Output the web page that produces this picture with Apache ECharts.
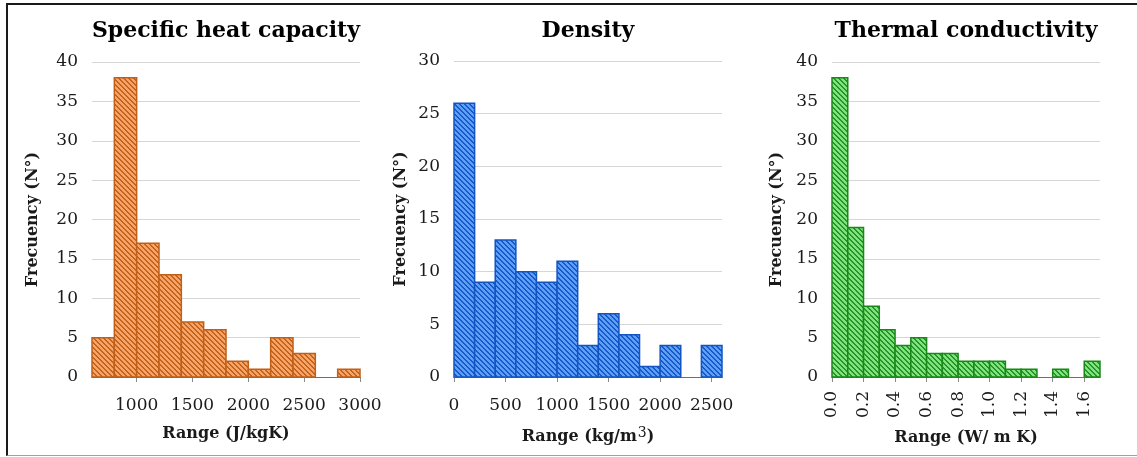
<!DOCTYPE html>
<html><head><meta charset="utf-8">
<script src="https://cdn.jsdelivr.net/npm/echarts@6/dist/echarts.min.js"></script>
<style>
html,body{margin:0;padding:0;background:#fff;overflow:hidden;width:1137px;height:457px;}
#frame{position:absolute;left:6px;top:3px;width:1131px;height:450px;border-left:2px solid #1a1a1a;border-top:2px solid #1a1a1a;border-bottom:1px solid #a0a0a0;}
#c{position:absolute;left:0;top:0;width:1137px;height:457px;}
</style></head><body><div id="frame"></div><div id="c"></div>
<script>
// ---- data ----
const heatTitle = 'Specific heat capacity';
const heatBins = [600, 800, 1000, 1200, 1400, 1600, 1800, 2000, 2200, 2400, 2600, 2800];
const heatCounts = [5, 38, 17, 13, 7, 6, 2, 1, 5, 3, 0, 1];
const heatBinWidth = 200;
const heatTicks = [1000, 1500, 2000, 2500, 3000];

const densTitle = 'Density';
const densBins = [0, 200, 400, 600, 800, 1000, 1200, 1400, 1600, 1800, 2000, 2200, 2400];
const densCounts = [26, 9, 13, 10, 9, 11, 3, 6, 4, 1, 3, 0, 3];
const densBinWidth = 200;
const densTicks = [0, 500, 1000, 1500, 2000, 2500];

const condTitle = 'Thermal conductivity';
const condBins = [0, 0.1, 0.2, 0.3, 0.4, 0.5, 0.6, 0.7, 0.8, 0.9, 1.0, 1.1, 1.2, 1.3, 1.4, 1.5, 1.6];
const condCounts = [38, 19, 9, 6, 4, 5, 3, 3, 2, 2, 2, 1, 1, 0, 1, 0, 2];
const condBinWidth = 0.1;
const condTicks = [0, 0.2, 0.4, 0.6, 0.8, 1.0, 1.2, 1.4, 1.6];

// ---- styling ----
const SERIF = '"DejaVu Serif", serif';
const grids = [
  {left: 92, top: 62, width: 268, height: 315},
  {left: 454, top: 61, width: 268, height: 316},
  {left: 832, top: 62, width: 268, height: 315}
];

function hatch(light, dark) {
  const s = 5, cv = document.createElement('canvas');
  cv.width = s; cv.height = s;
  const ctx = cv.getContext('2d');
  ctx.fillStyle = light; ctx.fillRect(0, 0, s, s);
  ctx.fillStyle = dark;
  for (let y = 0; y < s; y++) for (let x = 0; x < s; x++) {
    if (((x - y) % s + s) % s < 2) ctx.fillRect(x, y, 1, 1);
  }
  return {image: cv, repeat: 'repeat'};
}
const styles = [
  {fill: hatch('#f8a468', '#c4641c'), stroke: '#bf5f18'},
  {fill: hatch('#5f9ff6', '#1659cc'), stroke: '#1255c2'},
  {fill: hatch('#80e280', '#259625'), stroke: '#188818'}
];

function histData(bins, counts, w) {
  return bins.map((b, i) => [b, +(b + w).toFixed(4), counts[i]]);
}
function makeSeries(idx, data) {
  const st = styles[idx];
  return {
    type: 'custom', xAxisIndex: idx, yAxisIndex: idx, data: data,
    renderItem: function (params, api) {
      const y = api.value(2);
      if (!y) return {type: 'group', children: []};
      const p0 = api.coord([api.value(0), 0]);
      const p1 = api.coord([api.value(1), y]);
      return {
        type: 'rect',
        shape: {x: p0[0], y: p1[1], width: p1[0] - p0[0], height: p0[1] - p1[1]},
        style: {fill: st.fill, stroke: st.stroke, lineWidth: 1.5}
      };
    }
  };
}
function xAxis(idx, min, max, ticks, name, gap, labelExtra, nameStyleExtra) {
  return {
    type: 'value', gridIndex: idx, min: min, max: max,
    name: name, nameLocation: 'middle', nameGap: gap,
    nameTextStyle: Object.assign({fontFamily: SERIF, fontWeight: 'bold', fontSize: 16, color: '#1a1a1a'}, nameStyleExtra || {}),
    axisLine: {show: true, onZero: false, lineStyle: {color: '#6f6f6f', width: 1}},
    axisTick: {show: true, length: 5, customValues: ticks, lineStyle: {color: '#8a8a8a'}},
    axisLabel: Object.assign({customValues: ticks, margin: 20, fontFamily: SERIF, fontSize: 17, color: '#1a1a1a',
      formatter: v => String(v)}, labelExtra || {}),
    splitLine: {show: false}
  };
}
function yAxis(idx, max, gap) {
  return {
    type: 'value', gridIndex: idx, min: 0, max: max, interval: 5,
    name: 'Frecuency (N°)', nameLocation: 'middle', nameGap: gap,
    nameTextStyle: {fontFamily: SERIF, fontWeight: 'bold', fontSize: 16, color: '#1a1a1a'},
    axisLine: {show: false}, axisTick: {show: false},
    axisLabel: {margin: 14, fontFamily: SERIF, fontSize: 17, color: '#1a1a1a'},
    splitLine: {show: true, lineStyle: {color: '#d6d6d6', width: 1}}
  };
}

const titles = [heatTitle, densTitle, condTitle];
const chart = echarts.init(document.getElementById('c'), null, {renderer: 'canvas'});
chart.setOption({
  animation: false,
  grid: grids,
  graphic: titles.map((t, i) => ({
    type: 'text', x: grids[i].left + grids[i].width / 2, y: 31,
    style: {text: t, fontFamily: SERIF, fontWeight: 'bold', fontSize: 22, fill: '#000',
            align: 'center', verticalAlign: 'middle'}
  })),
  xAxis: [
    xAxis(0, 600, 3000, heatTicks, 'Range (J/kgK)', 49),
    xAxis(1, 0, 2600, densTicks, 'Range (kg/m{s|3})', 49, null, {
      rich: {s: {fontFamily: SERIF, fontSize: 14, fontWeight: 'normal', color: '#1a1a1a', verticalAlign: 'top', padding: [0, 0, 7, 1]}}
    }),
    xAxis(2, 0, 1.7, condTicks, 'Range (W/ m K)', 53, {rotate: 90, margin: 14, formatter: v => v.toFixed(1)})
  ],
  yAxis: [yAxis(0, 40, 51), yAxis(1, 30, 45), yAxis(2, 40, 47)],
  series: [
    makeSeries(0, histData(heatBins, heatCounts, heatBinWidth)),
    makeSeries(1, histData(densBins, densCounts, densBinWidth)),
    makeSeries(2, histData(condBins, condCounts, condBinWidth))
  ]
});
</script></body></html>
